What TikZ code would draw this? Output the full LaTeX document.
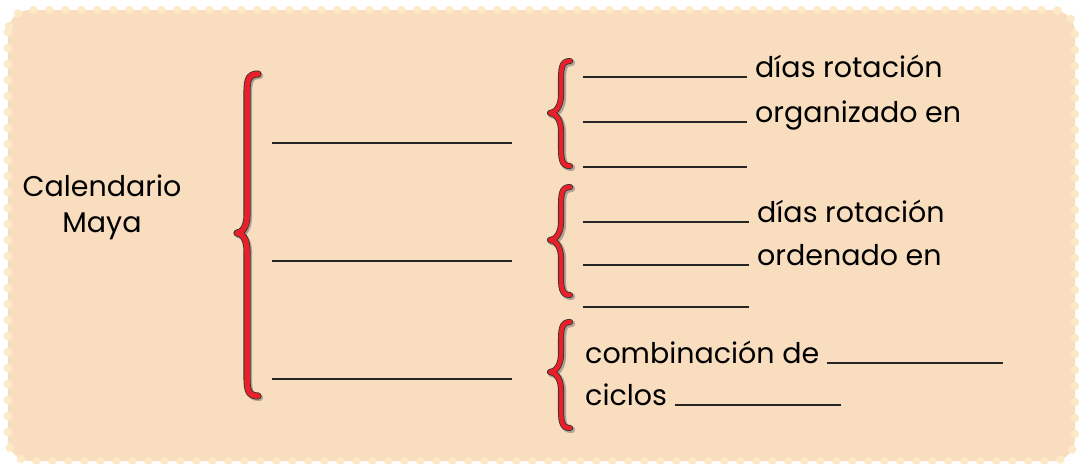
\documentclass[tikz,border=0pt]{standalone}
\usepackage{fontspec}
\setmainfont{Poppins}
\definecolor{cardfill}{HTML}{F8DEBE}
\definecolor{carddots}{HTML}{FDE9C8}
\definecolor{bracered}{HTML}{E8202A}

% one stroke of a brace: style, right, stem, tip x, top, tip y, bottom
\newcommand\bracepart[7]{%
  \draw[#1] (#2,#5) .. controls (#3,#5) and (#3,#5+8) .. (#3,#5+22)
    -- (#3,#6-18) .. controls (#3,#6-6) and (#4+5,#6) .. (#4,#6)
    .. controls (#4+5,#6) and (#3,#6+6) .. (#3,#6+18)
    -- (#3,#7-22) .. controls (#3,#7-8) and (#3,#7) .. (#2,#7);}
% shadow + red stroke
\newcommand\mayabrace[7][4.5]{%
  \bracepart{braceshadow}{#2}{#3}{#4}{#5}{#6}{#7}
  \bracepart{bracestroke,double distance=#1}{#2}{#3}{#4}{#5}{#6}{#7}}

\begin{document}
\begin{tikzpicture}[x=1pt,y=-1pt,
  txt/.style={inner sep=0pt,font=\fontsize{28.5}{36}\selectfont},
  blank/.style={draw=black!85,line width=1.4pt},
  braceshadow/.style={draw=black!55,opacity=0.55,line width=7pt,
    line cap=round,line join=round,shift={(1.6,1.6)}},
  bracestroke/.style={draw=black!80,double=bracered,line width=0.8pt,
    line cap=round,line join=round}]
\useasboundingbox (0,0) rectangle (1081,463);

% card
\fill[cardfill,rounded corners=22pt] (8,10) rectangle (1075,461);
\draw[carddots,line width=8.5pt,line cap=round,dash pattern=on 0pt off 16pt,
  rounded corners=22pt] (8,10) rectangle (1075,461);

% title
\node[txt,align=center] (cal) at (102,207) {Calendario\\Maya};

% big brace and its blanks
\mayabrace[5.5]{258}{247}{237}{74}{233}{396}
\draw[blank] (272,143) -- (512,143);
\draw[blank] (272,261) -- (512,261);
\draw[blank] (272,379) -- (512,379);

% first group
\mayabrace{570}{561}{550}{61}{113}{166}
\node[txt,anchor=base west] (dias1) at (755,77) {días rotación};
\node[txt,anchor=base west] (orga) at (755,122) {organizado en};
\draw[blank] ([xshift=-8pt]dias1.base west) -- ++(-164,0);
\draw[blank] ([xshift=-8pt]orga.base west) -- ++(-164,0);
\draw[blank] (583,167) -- (747,167);

% second group
\mayabrace{570}{561}{550}{187}{240}{295}
\node[txt,anchor=base west] (dias2) at (757,222) {días rotación};
\node[txt,anchor=base west] (orde) at (757,265) {ordenado en};
\draw[blank] ([xshift=-8pt]dias2.base west) -- ++(-166,0);
\draw[blank] ([xshift=-8pt]orde.base west) -- ++(-166,0);
\draw[blank] (583,307) -- (749,307);

% third group
\mayabrace{570}{561}{550}{322}{372}{428}
\node[txt,anchor=base west] (comb) at (585,363) {combinación de};
\node[txt,anchor=base west] (cicl) at (585,405) {ciclos};
\draw[blank] ([xshift=8pt]comb.base east) -- (1003,363);
\draw[blank] ([xshift=8pt]cicl.base east) -- (841,405);
\end{tikzpicture}
\end{document}
